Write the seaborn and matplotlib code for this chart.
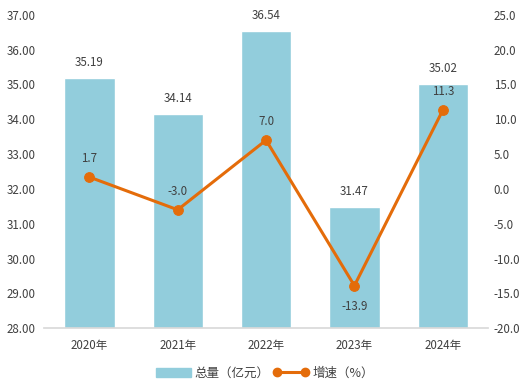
import matplotlib
matplotlib.use("Agg")
import matplotlib.pyplot as plt
import seaborn as sns
import pandas as pd
from matplotlib.patches import Patch
from matplotlib.lines import Line2D

years = ["2020年", "2021年", "2022年", "2023年", "2024年"]
totals = [35.19, 34.14, 36.54, 31.47, 35.02]
growth = [1.7, -3.0, 7.0, -13.9, 11.3]
left_ticks = [28, 29, 30, 31, 32, 33, 34, 35, 36, 37]
right_ticks = [-20, -15, -10, -5, 0, 5, 10, 15, 20, 25]

sns.set_theme(style="white")
plt.rcParams['font.family'] = ['Noto Sans CJK SC', 'DejaVu Sans']

BAR = "#92CDDC"
LINE = "#E46C0A"
TXT = "#404040"
FS = 8.3

df = pd.DataFrame({"year": years, "total": totals, "growth": growth})

fig = plt.figure(figsize=(5.3, 3.92), dpi=100)
ax = fig.add_axes([0.083, 0.163, 0.838, 0.799])
sns.barplot(data=df, x="year", y="total", color=BAR, width=0.57, ax=ax, saturation=1)
ax.set_ylim(28, 37)
ax.set_yticks(left_ticks)
ax.set_yticklabels([f"{v:.2f}" for v in left_ticks])
ax.set_xlabel("")
ax.set_ylabel("")
for s in ["top", "right", "left"]:
    ax.spines[s].set_visible(False)
ax.spines["bottom"].set_color("#D9D9D9")
ax.tick_params(axis="both", length=0, labelsize=FS, colors=TXT, pad=6)
ax.tick_params(axis="x", pad=8)
for i, v in enumerate(totals):
    ax.annotate(f"{v:.2f}", (i, v), xytext=(0, 6.5), textcoords="offset points",
                ha="center", va="bottom", fontsize=FS, color=TXT)

ax2 = ax.twinx()
sns.lineplot(x=list(range(len(years))), y=growth, ax=ax2, color=LINE, linewidth=2.2,
             marker="o", markersize=7, markeredgecolor=LINE)
ax2.set_ylim(-20, 25)
ax2.set_yticks(right_ticks)
ax2.set_yticklabels([f"{v:.1f}" for v in right_ticks])
for s in ["top", "right", "left", "bottom"]:
    ax2.spines[s].set_visible(False)
ax2.tick_params(axis="y", length=0, labelsize=FS, colors=TXT, pad=4)
for i, v in enumerate(growth):
    off = -10 if v < -10 else 8.5
    ax2.annotate(f"{v:.1f}", (i, v), xytext=(0, off), textcoords="offset points",
                 ha="center", va="top" if off < 0 else "bottom", fontsize=FS, color=TXT)

handles = [Patch(facecolor=BAR, edgecolor=BAR),
           Line2D([0], [0], color=LINE, linewidth=2.2, marker="o", markersize=6)]
fig.legend(handles, ["总量（亿元）", "增速（%）"], loc="center", bbox_to_anchor=(0.5, 0.048),
           ncol=2, frameon=False, fontsize=9, labelcolor=TXT, handlelength=2.8,
           columnspacing=0.3, handletextpad=0.3, numpoints=2)

fig.savefig("out.png", dpi=100)
